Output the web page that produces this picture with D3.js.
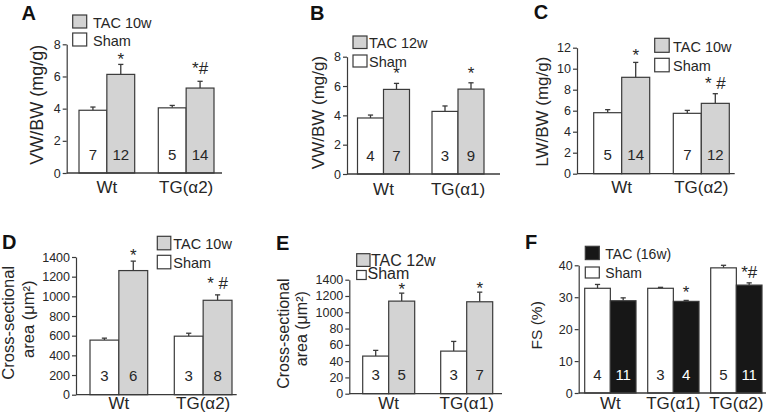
<!DOCTYPE html>
<html>
<head>
<meta charset="utf-8">
<script src="https://cdn.jsdelivr.net/npm/d3@7"></script>
<style>
  html, body { margin: 0; padding: 0; background: #fff; }
  svg { display: block; font-family: "Liberation Sans", Arial, Helvetica, sans-serif; }
</style>
</head>
<body>
<svg id="chart" width="768" height="417"></svg>
<script>
// ---------------- DATA ----------------
// Panel A
const catsA = ["Wt", "TG(α2)"];
const shamA = [3.9, 4.05];
const shamErrA = [0.2, 0.15];
const tacA = [6.13, 5.28];
const tacErrA = [0.62, 0.42];
const nShamA = ["7", "5"];
const nTacA = ["12", "14"];
const sigA = ["*", "*#"];
const sigYA = [6.7, 6.15];
const legendA = ["TAC 10w", "Sham"];
const ticksA = [0, 2, 4, 6, 8];
const tickLabelsA = ["0", "2", "4", "6", "8"];
const yLabelA = ["VW/BW (mg/g)"];

// Panel B
const catsB = ["Wt", "TG(α1)"];
const shamB = [3.82, 4.27];
const shamErrB = [0.2, 0.37];
const tacB = [5.77, 5.79];
const tacErrB = [0.41, 0.43];
const nShamB = ["4", "3"];
const nTacB = ["7", "9"];
const sigB = ["*", "*"];
const sigYB = [6.45, 6.45];
const legendB = ["TAC 12w", "Sham"];
const ticksB = [0, 2, 4, 6, 8];
const tickLabelsB = ["0", "2", "4", "6", "8"];
const yLabelB = ["VW/BW (mg/g)"];

// Panel C
const catsC = ["Wt", "TG(α2)"];
const shamC = [5.81, 5.75];
const shamErrC = [0.29, 0.28];
const tacC = [9.18, 6.7];
const tacErrC = [1.42, 0.92];
const nShamC = ["5", "7"];
const nTacC = ["14", "12"];
const sigC = ["*", "* #"];
const sigYC = [10.7, 8.04];
const legendC = ["TAC 10w", "Sham"];
const ticksC = [0, 2, 4, 6, 8, 10, 12];
const tickLabelsC = ["0", "2", "4", "6", "8", "10", "12"];
const yLabelC = ["LW/BW (mg/g)"];

// Panel D
const catsD = ["Wt", "TG(α2)"];
const shamD = [555, 595];
const shamErrD = [20, 30];
const tacD = [1262, 960];
const tacErrD = [96, 55];
const nShamD = ["3", "3"];
const nTacD = ["6", "8"];
const sigD = ["*", "* #"];
const sigYD = [1361, 1078];
const legendD = ["TAC 10w", "Sham"];
const ticksD = [0, 200, 400, 600, 800, 1000, 1200, 1400];
const tickLabelsD = ["0", "200", "400", "600", "800", "1000", "1200", "1400"];
const yLabelD = ["Cross-sectional", "area (μm²)"];

// Panel E
const catsE = ["Wt", "TG(α1)"];
const shamE = [462, 523];
const shamErrE = [70, 119];
const tacE = [1137, 1129];
const tacErrE = [98, 118];
const nShamE = ["3", "3"];
const nTacE = ["5", "7"];
const sigE = ["*", "*"];
const sigYE = [1212, 1222];
const legendE = ["TAC 12w", "Sham"];
const ticksE = [0, 200, 400, 600, 800, 1000, 1200, 1400];
const tickLabelsE = ["0", "20", "40", "60", "80", "1000", "1200", "1400"];
const yLabelE = ["Cross-sectional", "area (μm²)"];

// Panel F
const catsF = ["Wt", "TG(α1)", "TG(α2)"];
const shamF = [32.8, 32.8, 39.2];
const shamErrF = [1.2, 0.3, 0.8];
const tacF = [28.9, 28.7, 33.8];
const tacErrF = [0.9, 0.3, 0.7];
const nShamF = ["4", "3", "5"];
const nTacF = ["11", "4", "11"];
const sigF = ["", "*", "*#"];
const sigYF = [0, 29.7, 36.0];
const legendF = ["TAC (16w)", "Sham"];
const ticksF = [0, 10, 20, 30, 40];
const tickLabelsF = ["0", "10", "20", "30", "40"];
const yLabelF = ["FS (%)"];

// ---------------- STYLE / LAYOUT ----------------
const INK = "#262626";
const STROKE = "#3a3a3a";
const GRAY = "#d3d3d3";
const BLACK = "#171717";

const panels = [
  { letter: "A", cats: catsA, sham: shamA, shamErr: shamErrA, tac: tacA, tacErr: tacErrA, nSham: nShamA, nTac: nTacA,
    sig: sigA, sigY: sigYA, legend: legendA, ticks: ticksA, tickLabels: tickLabelsA, yLabel: yLabelA, tacColor: GRAY,
    L: { ax: 66.7, y0: 173, yTop: 44.3, xEnd: 222, bx0: 79, bx1: 214, bw: 55.7, lx: 21.5, ly: 19.5,
         leg: { x: 72.7, y1: 15, y2: 33, tx: 93, tx2: 93, fs: 14.5, b1: [14, 13], b2: [14, 13] },
         ylab: [{ x: 37.5, y: 104.7 }], yfs: 18, xlabY: 193.3 } },
  { letter: "B", cats: catsB, sham: shamB, shamErr: shamErrB, tac: tacB, tacErr: tacErrB, nSham: nShamB, nTac: nTacB,
    sig: sigB, sigY: sigYB, legend: legendB, ticks: ticksB, tickLabels: tickLabelsB, yLabel: yLabelB, tacColor: GRAY,
    L: { ax: 347, y0: 174, yTop: 56.7, xEnd: 500, bx0: 357.5, bx1: 484, bw: 52, lx: 310, ly: 20,
         leg: { x: 353, y1: 36, y2: 55, tx: 369, tx2: 369, fs: 14.5, b1: [14, 12.5], b2: [14, 12] },
         ylab: [{ x: 318.5, y: 112.5 }], yfs: 17, xlabY: 195 } },
  { letter: "C", cats: catsC, sham: shamC, shamErr: shamErrC, tac: tacC, tacErr: tacErrC, nSham: nShamC, nTac: nTacC,
    sig: sigC, sigY: sigYC, legend: legendC, ticks: ticksC, tickLabels: tickLabelsC, yLabel: yLabelC, tacColor: GRAY,
    L: { ax: 577, y0: 173.7, yTop: 47.7, xEnd: 734.7, bx0: 593.7, bx1: 729.3, bw: 56, lx: 533.7, ly: 18.5,
         leg: { x: 654.7, y1: 38.3, y2: 58.3, tx: 673, tx2: 673, fs: 14.5, b1: [14.5, 14], b2: [14.5, 13.5] },
         ylab: [{ x: 542.8, y: 111.7 }], yfs: 17, xlabY: 193.3 } },
  { letter: "D", cats: catsD, sham: shamD, shamErr: shamErrD, tac: tacD, tacErr: tacErrD, nSham: nShamD, nTac: nTacD,
    sig: sigD, sigY: sigYD, legend: legendD, ticks: ticksD, tickLabels: tickLabelsD, yLabel: yLabelD, tacColor: GRAY,
    L: { ax: 76, y0: 394.7, yTop: 257, xEnd: 236.7, bx0: 90, bx1: 232, bw: 57.7, lx: 2, ly: 248.7,
         leg: { x: 157.3, y1: 236.3, y2: 255.3, tx: 173.3, tx2: 173.3, fs: 14.5, b1: [13.5, 13.5], b2: [13.5, 13.5] },
         ylab: [{ x: 8.6, y: 322.8 }, { x: 28.7, y: 319.3 }], yfs: 16.5, xlabY: 408.7 } },
  { letter: "E", cats: catsE, sham: shamE, shamErr: shamErrE, tac: tacE, tacErr: tacErrE, nSham: nShamE, nTac: nTacE,
    sig: sigE, sigY: sigYE, legend: legendE, ticks: ticksE, tickLabels: tickLabelsE, yLabel: yLabelE, tacColor: GRAY,
    L: { ax: 349.3, y0: 393.7, yTop: 279.7, xEnd: 502, bx0: 362.7, bx1: 492.7, bw: 52, lx: 276, ly: 249.7,
         leg: { x: 356.7, y1: 253.7, y2: 270.5, tx: 371, tx2: 367.5, fs: 16, b1: [13.3, 12.7], b2: [9.5, 9] },
         ylab: [{ x: 284.3, y: 333.7 }, { x: 301.8, y: 328.7 }], yfs: 16, xlabY: 408.7 } },
  { letter: "F", cats: catsF, sham: shamF, shamErr: shamErrF, tac: tacF, tacErr: tacErrF, nSham: nShamF, nTac: nTacF,
    sig: sigF, sigY: sigYF, legend: legendF, ticks: ticksF, tickLabels: tickLabelsF, yLabel: yLabelF, tacColor: BLACK,
    L: { ax: 578.7, y0: 393, yTop: 265.3, xEnd: 766, bx0: 584.7, bx1: 762, bw: 51.3, lx: 525, ly: 248.7,
         leg: { x: 585.3, y1: 246.3, y2: 267, tx: 605.3, tx2: 605.3, fs: 14, b1: [14, 13.3], b2: [14, 11] },
         ylab: [{ x: 537.8, y: 325.3 }], yfs: 15.5, xlabY: 408.7 } }
];

const svg = d3.select("#chart");

panels.forEach(p => {
  const L = p.L;
  const g = svg.append("g");
  const yMax = p.ticks[p.ticks.length - 1];
  const y = d3.scaleLinear().domain([0, yMax]).range([L.y0, L.yTop]);
  const n = p.cats.length;
  const span = L.bx1 - L.bx0;
  const pad = (span - L.bw * n) / (span - L.bw);
  const x = d3.scaleBand().domain(p.cats).range([L.bx0, L.bx1]).paddingInner(pad).paddingOuter(0);
  const xs = d3.scaleBand().domain(["Sham", "TAC"]).range([0, x.bandwidth()]).padding(0);

  const rows = p.cats.map((c, i) => ([
    { cat: c, s: "Sham", v: p.sham[i], e: p.shamErr[i], n: p.nSham[i], fill: "#fff", txt: INK },
    { cat: c, s: "TAC", v: p.tac[i], e: p.tacErr[i], n: p.nTac[i], fill: p.tacColor, txt: p.tacColor === BLACK ? "#fff" : INK }
  ])).flat();

  // error bars (upper only), drawn before bars
  const eb = g.append("g").attr("stroke", STROKE).attr("stroke-width", 1.3);
  rows.forEach(r => {
    const cx = x(r.cat) + xs(r.s) + xs.bandwidth() / 2;
    eb.append("line").attr("x1", cx).attr("x2", cx).attr("y1", y(r.v)).attr("y2", y(r.v + r.e));
    eb.append("line").attr("x1", cx - 2.6).attr("x2", cx + 2.6).attr("y1", y(r.v + r.e)).attr("y2", y(r.v + r.e));
  });

  // bars
  g.append("g").selectAll("rect").data(rows).join("rect")
    .attr("x", d => x(d.cat) + xs(d.s))
    .attr("y", d => y(d.v))
    .attr("width", xs.bandwidth())
    .attr("height", d => y(0) - y(d.v))
    .attr("fill", d => d.fill)
    .attr("stroke", STROKE)
    .attr("stroke-width", 1.2);

  // n labels inside bars
  g.append("g").selectAll("text").data(rows).join("text")
    .attr("x", d => x(d.cat) + xs(d.s) + xs.bandwidth() / 2)
    .attr("y", L.y0 - 13.5)
    .attr("text-anchor", "middle")
    .attr("font-size", 15)
    .attr("fill", d => d.txt)
    .text(d => d.n);

  // significance marks
  p.cats.forEach((c, i) => {
    if (!p.sig[i]) return;
    g.append("text")
      .attr("x", x(c) + xs("TAC") + xs.bandwidth() / 2)
      .attr("y", y(p.sigY[i]))
      .attr("text-anchor", "middle")
      .attr("font-size", 17)
      .attr("fill", INK)
      .attr("xml:space", "preserve")
      .text(p.sig[i]);
  });

  // y axis
  const ya = g.append("g").attr("transform", `translate(${L.ax},0)`)
    .call(d3.axisLeft(y).tickValues(p.ticks).tickSize(4).tickSizeOuter(0).tickPadding(2)
      .tickFormat((d, i) => p.tickLabels[i]));
  ya.select(".domain").attr("stroke", STROKE).attr("stroke-width", 1.2);
  ya.selectAll(".tick line").attr("stroke", STROKE).attr("stroke-width", 1.2);
  ya.selectAll(".tick text").attr("font-size", 12.5).attr("fill", INK)
    .attr("font-family", "'Liberation Sans', Arial, sans-serif");

  // x axis baseline
  g.append("line").attr("x1", L.ax).attr("x2", L.xEnd).attr("y1", L.y0).attr("y2", L.y0)
    .attr("stroke", STROKE).attr("stroke-width", 1.3);

  // x category labels
  g.append("g").selectAll("text").data(p.cats).join("text")
    .attr("x", d => x(d) + x.bandwidth() / 2)
    .attr("y", L.xlabY)
    .attr("text-anchor", "middle")
    .attr("font-size", 17)
    .attr("fill", INK)
    .text(d => d);

  // y label
  p.yLabel.forEach((t, i) => {
    const pos = L.ylab[i];
    g.append("text")
      .attr("transform", `translate(${pos.x},${pos.y}) rotate(-90)`)
      .attr("text-anchor", "middle")
      .attr("dy", "0.3em")
      .attr("font-size", L.yfs)
      .attr("fill", INK)
      .text(t);
  });

  // panel letter
  g.append("text").attr("x", L.lx).attr("y", L.ly)
    .attr("font-size", 20).attr("font-weight", "bold").attr("fill", "#111")
    .text(p.letter);

  // legend
  const lg = L.leg;
  const items = [
    { label: p.legend[0], fill: p.tacColor, y: lg.y1, b: lg.b1, tx: lg.tx },
    { label: p.legend[1], fill: "#fff", y: lg.y2, b: lg.b2, tx: lg.tx2 }
  ];
  items.forEach(it => {
    g.append("rect").attr("x", lg.x).attr("y", it.y).attr("width", it.b[0]).attr("height", it.b[1])
      .attr("fill", it.fill).attr("stroke", STROKE).attr("stroke-width", 1.2);
    g.append("text").attr("x", it.tx).attr("y", it.y + it.b[1] - 0.5)
      .attr("font-size", lg.fs).attr("fill", INK).text(it.label);
  });
});
</script>
</body>
</html>
